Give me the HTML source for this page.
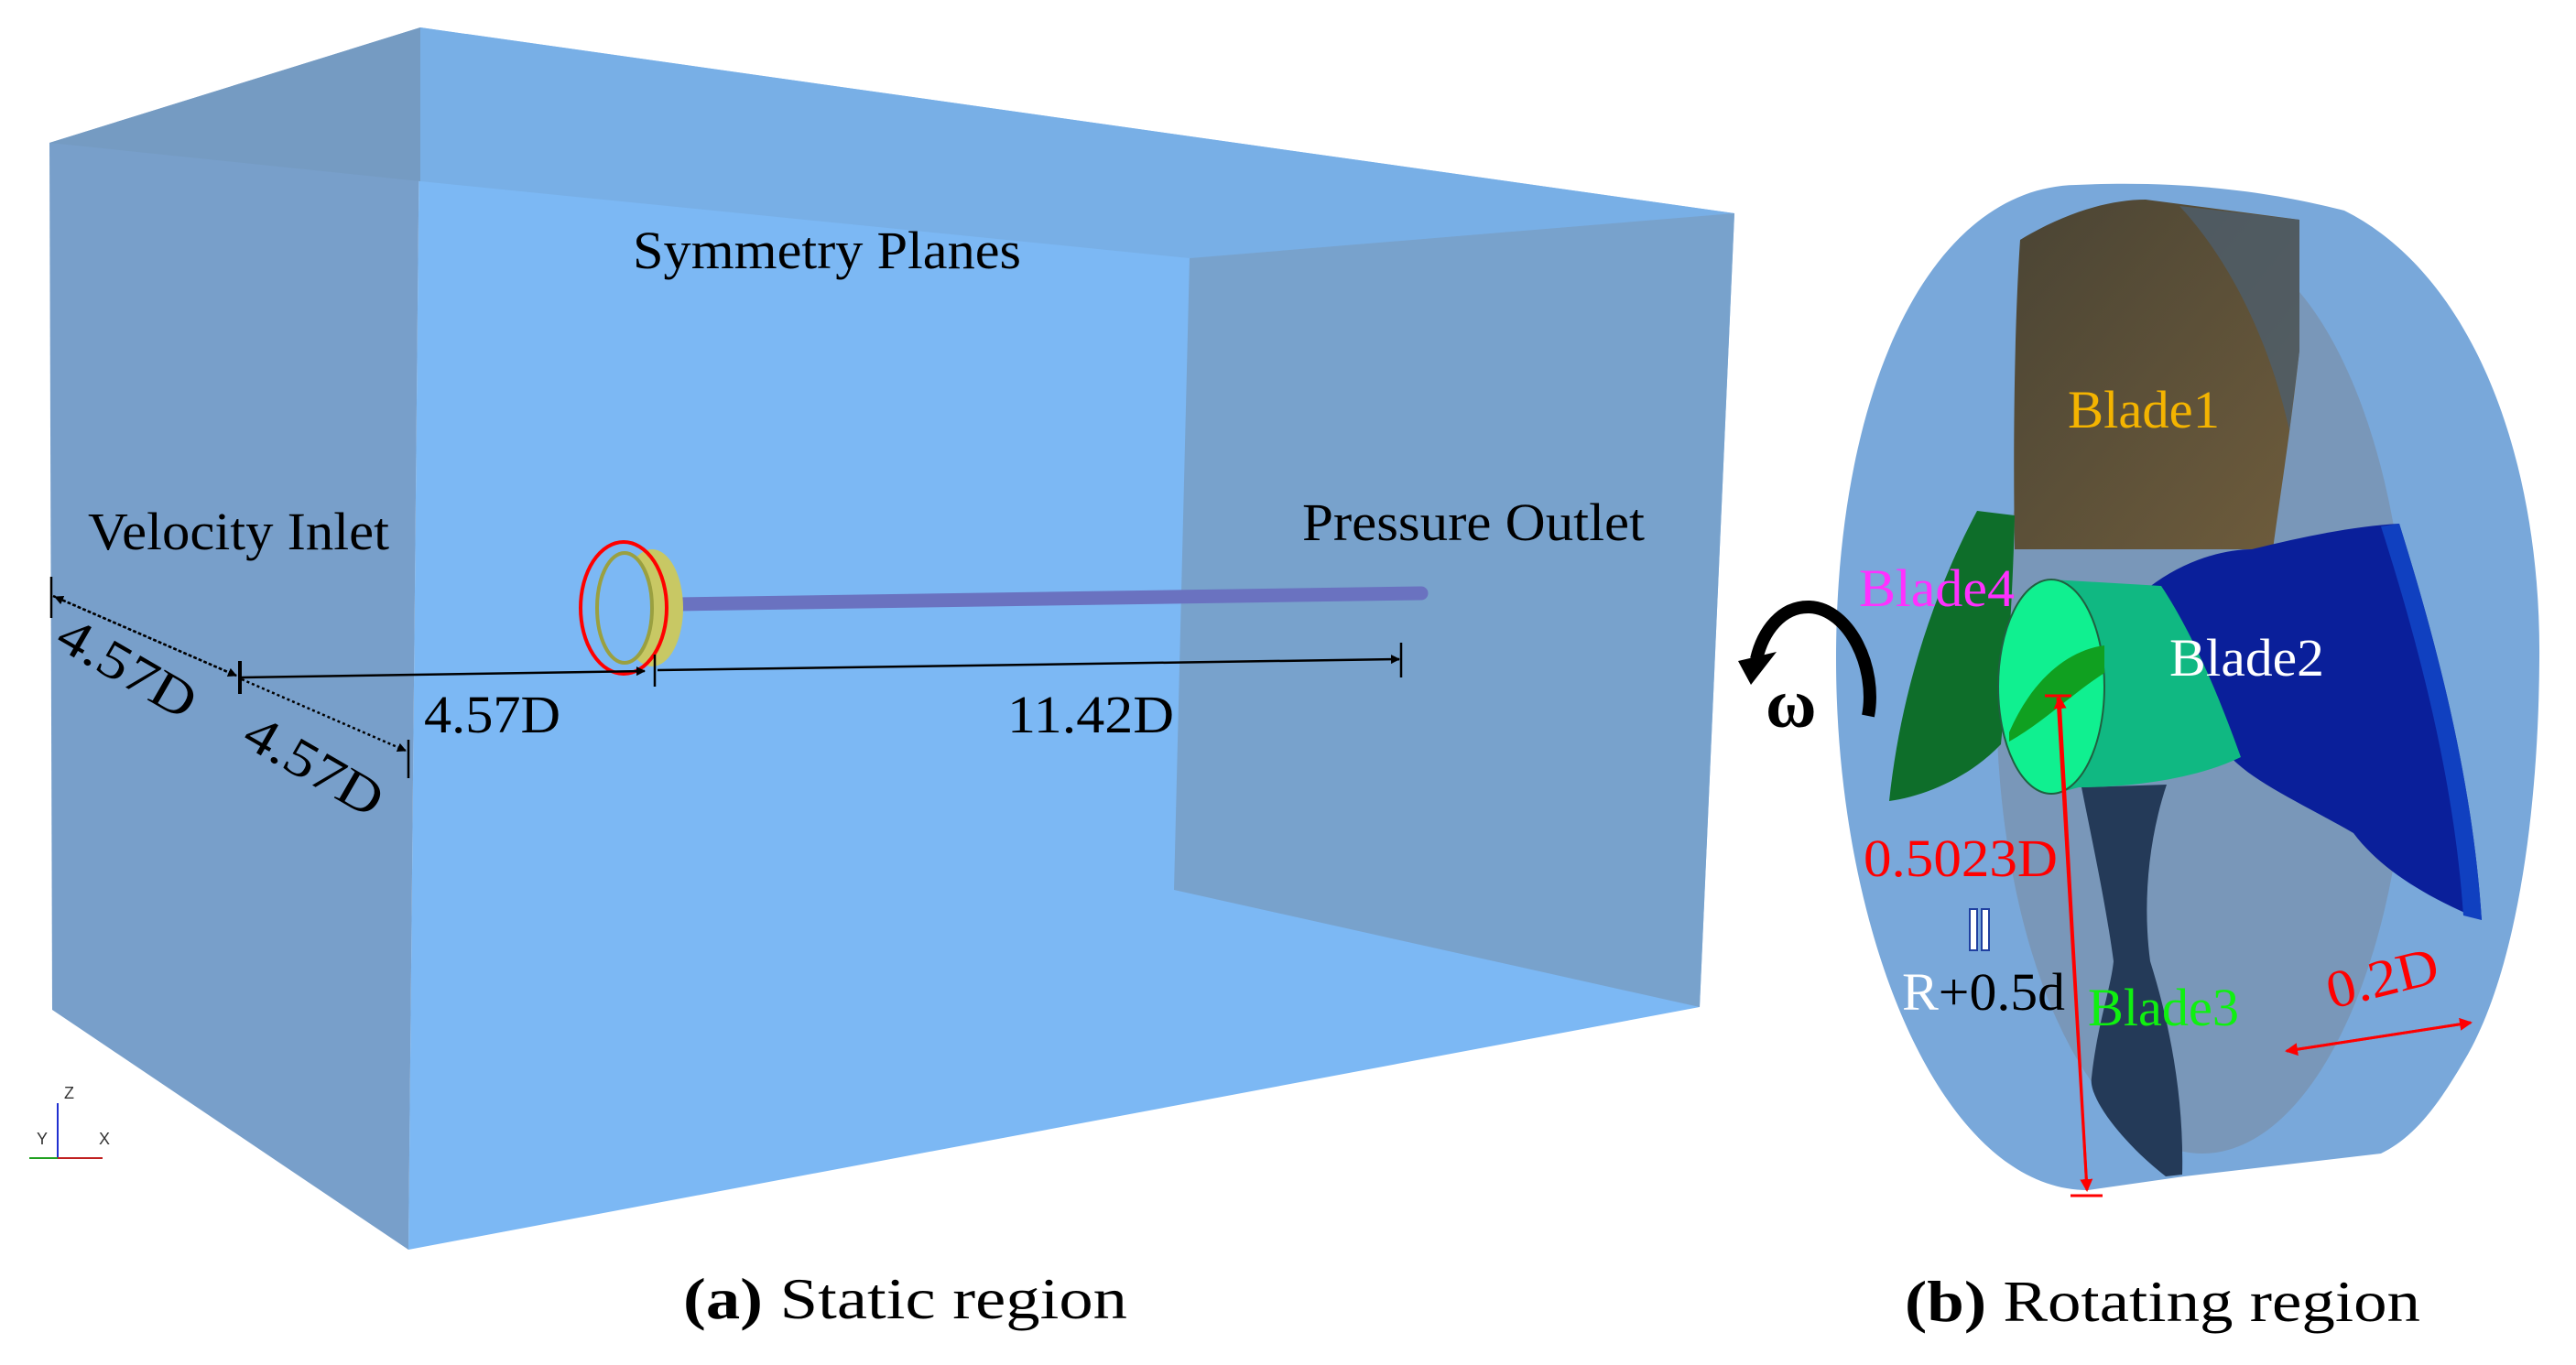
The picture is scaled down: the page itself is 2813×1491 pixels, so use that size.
<!DOCTYPE html>
<html><head><meta charset="utf-8"><style>
html,body{margin:0;padding:0;background:#fff;}
svg{display:block;}
text{font-family:"Liberation Serif","DejaVu Serif",serif;}
</style></head><body>
<svg width="2813" height="1491" viewBox="0 0 2813 1491" xmlns="http://www.w3.org/2000/svg">
<defs>
<marker id="ak" markerWidth="10" markerHeight="10" refX="9" refY="5" orient="auto" markerUnits="userSpaceOnUse" viewBox="0 0 10 10"><path d="M0,0 L10,5 L0,10z" fill="#000"/></marker>
<marker id="ar" markerWidth="14" markerHeight="14" refX="12" refY="7" orient="auto" markerUnits="userSpaceOnUse" viewBox="0 0 14 14"><path d="M0,0 L14,7 L0,14z" fill="#f00"/></marker>
<linearGradient id="b1" x1="0" y1="0" x2="1" y2="1"><stop offset="0" stop-color="#4a4434"/><stop offset="1" stop-color="#6e5c3c"/></linearGradient>
</defs>
<!-- box -->
<polygon points="459,30 1894,233 1856,1100 446,1365" fill="#7cb8f4"/>
<polygon points="459,30 1894,233 1299,282 459,198" fill="#78afe6"/>
<polygon points="54,156 459,30 446,1365 57,1103" fill="#789fca"/>
<polygon points="54,156 459,30 459,198" fill="#759bc2"/>
<polygon points="1299,282 1894,233 1856,1100 1282,972" fill="#78a2cc"/>
<!-- shaft & ring -->
<line x1="740" y1="660" x2="1552" y2="648" stroke="#6a72c0" stroke-width="15" stroke-linecap="round"/>
<ellipse cx="712" cy="664" rx="34" ry="64" fill="#c8c864"/>
<ellipse cx="682" cy="664" rx="30" ry="60" fill="#7cb8f4" stroke="#9aa040" stroke-width="4"/>
<ellipse cx="681" cy="664" rx="47" ry="72" fill="none" stroke="#f00" stroke-width="4"/>
<!-- dimensions -->
<g stroke="#000" stroke-width="2.5">
<line x1="56" y1="630" x2="56" y2="675"/>
<line x1="58" y1="651" x2="258" y2="738" stroke-dasharray="3,3" marker-end="url(#ak)"/>
<line x1="258" y1="738" x2="60" y2="652" stroke-dasharray="3,3" marker-end="url(#ak)"/>
<line x1="262" y1="722" x2="262" y2="758" stroke-width="4"/>
<line x1="264" y1="742" x2="443" y2="820" stroke-dasharray="3,3" marker-end="url(#ak)"/>
<line x1="446" y1="808" x2="446" y2="850"/>
<line x1="264" y1="740" x2="704" y2="733" marker-end="url(#ak)"/>
<line x1="715" y1="715" x2="715" y2="750"/>
<line x1="718" y1="732" x2="1528" y2="720" marker-end="url(#ak)"/>
<line x1="1530" y1="702" x2="1530" y2="740"/>
</g>
<g font-size="58" fill="#000">
<text x="691" y="293" textLength="424" lengthAdjust="spacingAndGlyphs">Symmetry Planes</text>
<text x="96" y="600" textLength="329" lengthAdjust="spacingAndGlyphs">Velocity Inlet</text>
<text x="1422" y="590" textLength="374" lengthAdjust="spacingAndGlyphs">Pressure Outlet</text>
<text x="463" y="800" textLength="149" lengthAdjust="spacingAndGlyphs">4.57D</text>
<text x="1100" y="800" textLength="182" lengthAdjust="spacingAndGlyphs">11.42D</text>
<text transform="translate(58,705) rotate(30)" textLength="165" lengthAdjust="spacingAndGlyphs">4.57D</text>
<text transform="translate(262,812) rotate(30)" textLength="165" lengthAdjust="spacingAndGlyphs">4.57D</text>
</g>
<!-- axis triad -->
<g stroke-width="2">
<line x1="63" y1="1265" x2="63" y2="1205" stroke="#2030d0"/>
<line x1="63" y1="1265" x2="112" y2="1265" stroke="#c02020"/>
<line x1="63" y1="1265" x2="32" y2="1265" stroke="#20a020"/>
</g>
<g font-size="18" fill="#333">
<text x="70" y="1200" style="font-family:'Liberation Sans',sans-serif">Z</text>
<text x="40" y="1250" style="font-family:'Liberation Sans',sans-serif">Y</text>
<text x="108" y="1250" style="font-family:'Liberation Sans',sans-serif">X</text>
</g>
<text x="746" y="1440" font-size="64" textLength="485" lengthAdjust="spacingAndGlyphs"><tspan font-weight="bold">(a)</tspan> Static region</text>

<!-- rotating region -->
<path d="M2267,202 C2420,195 2520,220 2560,230 C2700,300 2775,500 2773,720 C2772,900 2745,1070 2690,1160 C2655,1220 2630,1245 2600,1260 L2385,1285 L2280,1300 C2120,1300 2005,1020 2005,720 C2005,420 2110,205 2267,202 Z" fill="#79a8da"/>
<ellipse cx="2405" cy="760" rx="225" ry="500" fill="#7a92ae" opacity="0.75"/>
<!-- blade1 -->
<path d="M2206,262 C2250,235 2300,218 2343,218 L2511,240 L2511,383 C2500,480 2490,540 2482,600 L2200,600 C2198,480 2200,350 2206,262 Z" fill="url(#b1)"/>
<path d="M2380,225 L2511,240 L2511,383 L2500,470 C2480,380 2440,290 2380,225Z" fill="#4e5e6c" opacity="0.8"/>
<!-- blade4 -->
<path d="M2159,558 L2200,563 C2198,650 2192,740 2185,813 C2150,850 2100,870 2063,875 C2075,760 2110,650 2159,558 Z" fill="#0e6e2a"/>
<!-- blade2 -->
<path d="M2300,690 C2350,620 2420,600 2459,600 C2520,585 2570,575 2620,572 C2660,700 2700,850 2710,1005 C2650,980 2600,950 2570,910 C2500,870 2450,850 2424,813 C2380,760 2340,700 2300,690 Z" fill="#0a1f9a"/>
<path d="M2620,572 C2660,700 2700,850 2710,1005 L2690,1000 C2680,850 2640,700 2600,575Z" fill="#1040c0"/>
<!-- blade3 -->
<path d="M2273,860 L2366,857 C2345,920 2340,990 2348,1050 C2370,1120 2385,1200 2383,1283 L2365,1285 C2320,1250 2280,1200 2284,1177 C2290,1120 2305,1080 2308,1050 C2300,990 2285,920 2273,860 Z" fill="#243a58"/>
<!-- hub -->
<path d="M2240,633 L2360,640 C2400,700 2430,780 2447,827 C2400,850 2330,860 2270,860 L2240,868 Z" fill="#10b882"/>
<ellipse cx="2240" cy="750" rx="58" ry="117" fill="#10f090" stroke="#206040" stroke-width="2"/>
<path d="M2194,800 C2220,740 2260,710 2298,705 L2298,735 C2260,760 2230,790 2194,810Z" fill="#10a020"/>
<!-- red radius -->
<g stroke="#f00" stroke-width="3">
<line x1="2233" y1="760" x2="2262" y2="760"/>
<line x1="2247" y1="762" x2="2279" y2="1300" marker-end="url(#ar)"/>
<line x1="2279" y1="1300" x2="2249" y2="762" marker-end="url(#ar)"/>
<line x1="2261" y1="1306" x2="2296" y2="1306"/>
<line x1="2497" y1="1148" x2="2698" y2="1117" marker-end="url(#ar)"/>
<line x1="2698" y1="1117" x2="2497" y2="1148" marker-end="url(#ar)"/>
</g>
<!-- omega arrow -->
<path d="M2040,782 C2050,730 2020,665 1976,663 C1945,662 1925,690 1918,720" fill="none" stroke="#000" stroke-width="14"/>
<polygon points="1898,722 1940,712 1912,748" fill="#000"/>
<text x="1928" y="794" font-size="76" font-weight="bold" fill="#000">ω</text>
<!-- labels -->
<g font-size="58">
<text x="2258" y="467" fill="#f4b400" textLength="166" lengthAdjust="spacingAndGlyphs">Blade1</text>
<text x="2030" y="662" fill="#ff30ff" textLength="170" lengthAdjust="spacingAndGlyphs">Blade4</text>
<text x="2369" y="738" fill="#fff" textLength="169" lengthAdjust="spacingAndGlyphs">Blade2</text>
<text x="2035" y="957" fill="#f00" textLength="212" lengthAdjust="spacingAndGlyphs">0.5023D</text>
<text x="2077" y="1103" textLength="178" lengthAdjust="spacingAndGlyphs"><tspan fill="#fff">R</tspan><tspan fill="#000">+0.5d</tspan></text>
<text x="2280" y="1120" fill="#10f010" textLength="165" lengthAdjust="spacingAndGlyphs">Blade3</text>
<text transform="translate(2546,1102) rotate(-14)" fill="#f00" textLength="124" lengthAdjust="spacingAndGlyphs">0.2D</text>
</g>
<rect x="2151" y="993" width="8" height="45" fill="#fff" stroke="#2040a0" stroke-width="2"/>
<rect x="2164" y="993" width="8" height="45" fill="#fff" stroke="#2040a0" stroke-width="2"/>
<text x="2080" y="1443" font-size="64" textLength="563" lengthAdjust="spacingAndGlyphs"><tspan font-weight="bold">(b)</tspan> Rotating region</text>
</svg>
</body></html>
